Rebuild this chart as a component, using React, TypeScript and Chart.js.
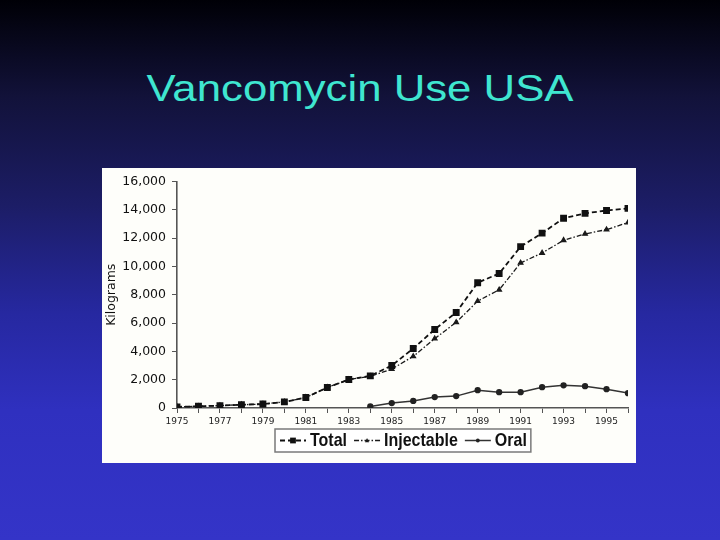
import React, { useEffect, useRef } from "react";
import { Chart, registerables } from "chart.js";

Chart.register(...registerables);

const years = [1975, 1976, 1977, 1978, 1979, 1980, 1981, 1982, 1983, 1984, 1985, 1986, 1987, 1988, 1989, 1990, 1991, 1992, 1993, 1994, 1995, 1996];
const totalKg = [80, 120, 170, 230, 280, 430, 740, 1450, 2010, 2270, 3000, 4200, 5550, 6750, 8850, 9500, 11400, 12350, 13400, 13750, 13950, 14100];
const injectableKg = [80, 120, 170, 230, 280, 430, 740, 1450, 2010, 2230, 2750, 3650, 4900, 6050, 7550, 8350, 10250, 10950, 11850, 12300, 12600, 13100];
const oralKg = [null, null, null, null, null, null, null, null, null, 110, 350, 500, 770, 840, 1260, 1120, 1120, 1470, 1600, 1540, 1330, 1050];
const seriesLabels = ["Total", "Injectable", "Oral"];
const yTicks = [0, 2000, 4000, 6000, 8000, 10000, 12000, 14000, 16000];
const titleText = "Vancomycin Use USA";
const yAxisTitle = "Kilograms";

function drawMarker(ctx: CanvasRenderingContext2D, style: string, x: number, y: number, r: number) {
  ctx.beginPath();
  if (style === "rect") {
    ctx.rect(x - r, y - r, r * 2, r * 2);
  } else if (style === "triangle") {
    ctx.moveTo(x, y - r * 1.2);
    ctx.lineTo(x + r, y + r * 0.8);
    ctx.lineTo(x - r, y + r * 0.8);
    ctx.closePath();
  } else {
    ctx.arc(x, y, r, 0, Math.PI * 2);
  }
  ctx.fill();
}

const boxLegend = {
  id: "boxLegend",
  afterDraw(chart: any) {
    const ctx: CanvasRenderingContext2D = chart.ctx;
    const area = chart.chartArea;
    ctx.save();
    ctx.font = 'bold 16px "Liberation Sans", Arial, sans-serif';
    const sample = 28, gap = 3, itemGap = 6, pad = 4;
    const items = chart.data.datasets.map((ds: any) => ({ ds, w: ctx.measureText(ds.label).width }));
    const totalW = items.reduce((s: number, it: any) => s + sample + gap + it.w, 0) + itemGap * (items.length - 1) + pad * 2;
    const boxH = 23;
    const cx = (area.left + area.right) / 2;
    const x0 = Math.round(cx - totalW / 2);
    const y0 = 261;
    ctx.fillStyle = "#ffffff";
    ctx.fillRect(x0, y0, totalW, boxH);
    ctx.strokeStyle = "#7a7a7a";
    ctx.lineWidth = 1.5;
    ctx.strokeRect(x0, y0, totalW, boxH);
    let x = x0 + pad;
    const cy = y0 + boxH / 2;
    items.forEach((it: any, i: number) => {
      const ds = it.ds;
      ctx.strokeStyle = ds.borderColor;
      ctx.lineWidth = ds.borderWidth;
      ctx.setLineDash(ds.borderDash || []);
      ctx.beginPath();
      ctx.moveTo(x + 1, cy);
      ctx.lineTo(x + sample - 1, cy);
      ctx.stroke();
      ctx.setLineDash([]);
      ctx.fillStyle = ds.pointBackgroundColor;
      drawMarker(ctx, ds.pointStyle, x + sample / 2, cy, ds.pointRadius * 0.8);
      x += sample + gap;
      ctx.fillStyle = "#111111";
      ctx.textBaseline = "middle";
      ctx.textAlign = "left";
      ctx.save();
      ctx.translate(x, cy + 1);
      ctx.scale(1, 1.12);
      ctx.fillText(ds.label, 0, 0);
      ctx.restore();
      x += it.w + (i < items.length - 1 ? itemGap : 0);
    });
    ctx.restore();
  },
};

function VancoChart() {
  const canvasRef = useRef<HTMLCanvasElement | null>(null);
  useEffect(() => {
    if (!canvasRef.current) return;
    const chart = new Chart(canvasRef.current, {
      type: "line",
      data: {
        datasets: [
          {
            label: seriesLabels[0],
            data: years.map((yr, i) => ({ x: yr, y: totalKg[i] })),
            borderColor: "#111111",
            backgroundColor: "#111111",
            pointBackgroundColor: "#111111",
            pointBorderColor: "#111111",
            borderWidth: 1.8,
            borderDash: [5, 3],
            pointStyle: "rect",
            pointRadius: 3.6,
            tension: 0,
            fill: false,
          },
          {
            label: seriesLabels[1],
            data: years.map((yr, i) => ({ x: yr, y: injectableKg[i] })),
            borderColor: "#1a1a1a",
            backgroundColor: "#1a1a1a",
            pointBackgroundColor: "#1a1a1a",
            pointBorderColor: "#1a1a1a",
            borderWidth: 1.3,
            borderDash: [5, 2, 1.5, 2],
            pointStyle: "triangle",
            pointRadius: 2.6,
            tension: 0,
            fill: false,
          },
          {
            label: seriesLabels[2],
            data: years.map((yr, i) => ({ x: yr, y: oralKg[i] })),
            borderColor: "#333333",
            backgroundColor: "#222222",
            pointBackgroundColor: "#222222",
            pointBorderColor: "#222222",
            borderWidth: 1.5,
            pointStyle: "circle",
            pointRadius: 2.4,
            tension: 0,
            fill: false,
            spanGaps: false,
          },
        ],
      } as any,
      options: {
        animation: false,
        responsive: false,
        maintainAspectRatio: false,
        layout: { padding: { left: 0, right: 8, top: 12, bottom: 0 } },
        plugins: {
          legend: { display: false },
          tooltip: { enabled: false },
          title: { display: false },
        },
        scales: {
          x: {
            type: "linear",
            min: years[0],
            max: years[years.length - 1],
            afterFit: (s: any) => { s.height = 55; },
            afterBuildTicks: (s: any) => { s.ticks = years.map((v) => ({ value: v })); },
            ticks: {
              autoSkip: false,
              maxRotation: 0,
              padding: 3,
              color: "#222222",
              font: { family: '"DejaVu Sans", Verdana, sans-serif', size: 9 },
              callback: (v: any) => (Number(v) % 2 === 1 ? String(v) : ""),
            },
            grid: { display: true, drawOnChartArea: false, drawTicks: true, tickLength: 5, color: "#555555", lineWidth: 1 },
            border: { display: true, color: "#555555", width: 1.6 },
          },
          y: {
            min: 0,
            max: 16000,
            afterFit: (s: any) => { s.width = 75; },
            afterBuildTicks: (s: any) => { s.ticks = yTicks.map((v) => ({ value: v })); },
            ticks: {
              padding: 6,
              color: "#111111",
              font: { family: '"DejaVu Sans", Verdana, sans-serif', size: 12.5 },
              callback: (v: any) => Number(v).toLocaleString("en-US"),
            },
            grid: { display: true, drawOnChartArea: false, drawTicks: true, tickLength: 5, color: "#555555", lineWidth: 1 },
            border: { display: true, color: "#555555", width: 1.6 },
            title: {
              display: true,
              text: yAxisTitle,
              color: "#111111",
              padding: { top: 2, bottom: 0 },
              font: { family: '"DejaVu Sans", Verdana, sans-serif', size: 12.5 },
            },
          },
        },
      } as any,
      plugins: [boxLegend],
    });
    return () => chart.destroy();
  }, []);
  return <canvas ref={canvasRef} width={534} height={295} style={{ display: "block", width: 534, height: 295 }} />;
}

export default function App() {
  useEffect(() => {
    document.body.style.margin = "0";
  }, []);
  return (
    <div
      style={{
        position: "fixed",
        left: 0,
        top: 0,
        width: 720,
        height: 540,
        overflow: "hidden",
        background: "linear-gradient(to bottom, #000006 0%, #12123a 18%, #1c1d66 38%, #2628a0 58%, #2f30bf 76%, #3434c8 100%)",
      }}
    >
      <div
        style={{
          position: "absolute",
          left: 0,
          width: 720,
          top: 68,
          textAlign: "center",
          fontFamily: '"Liberation Sans", Arial, sans-serif',
          fontSize: 35,
          color: "#3fe6d0",
          whiteSpace: "nowrap",
          transform: "scaleX(1.25) scaleY(1.04)",
          transformOrigin: "360px 0",
        }}
      >
        {titleText}
      </div>
      <div style={{ position: "absolute", left: 102, top: 168, width: 534, height: 295, background: "#fefefa" }}>
        <VancoChart />
      </div>
    </div>
  );
}
